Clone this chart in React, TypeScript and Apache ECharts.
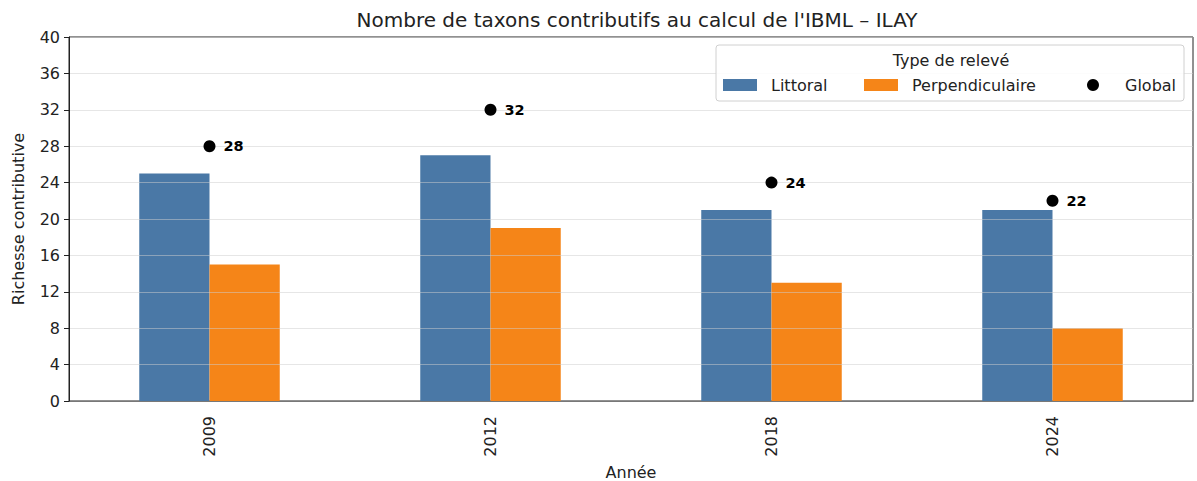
import React, { useEffect, useRef } from "react";
import * as echarts from "echarts";

const years = ["2009", "2012", "2018", "2024"];
const littoral = [25, 27, 21, 21];
const perpendiculaire = [15, 19, 13, 8];
const globalVals = [28, 32, 24, 22];
const yTicks = { min: 0, max: 40, interval: 4 };

const FONT = "DejaVu Sans";
const FS = 16;

export default function App() {
  const ref = useRef<HTMLDivElement>(null);
  useEffect(() => {
    if (!ref.current) return;
    const chart = echarts.init(ref.current, undefined, { renderer: "svg" });
    const legendText = {
      fontFamily: FONT,
      fontSize: FS,
      lineHeight: 16,
      color: "#222",
      padding: [0, 0, 0, 9],
    };
    const legendBase = {
      top: 77,
      padding: 0,
      itemWidth: 34,
      itemHeight: 12,
      z: 12,
    };
    chart.setOption({
      animation: false,
      backgroundColor: "#fff",
      textStyle: { fontFamily: FONT },
      title: {
        text: "Nombre de taxons contributifs au calcul de l'IBML – ILAY",
        left: 632,
        textAlign: "center",
        top: 5,
        textStyle: { fontFamily: FONT, fontSize: 20, fontWeight: "normal", color: "#222" },
      },
      graphic: [
        {
          type: "rect",
          shape: { x: 716, y: 45, width: 468, height: 56, r: 3 },
          style: { fill: "rgba(255,255,255,0.85)", stroke: "#d0d0d0", lineWidth: 1 },
          z: 10,
        },
        {
          type: "text",
          x: 951,
          y: 60,
          style: {
            text: "Type de relevé",
            fontFamily: FONT,
            fontSize: FS,
            fill: "#222",
            align: "center",
            verticalAlign: "middle",
          },
          z: 11,
        },
      ],
      legend: [
        {
          ...legendBase,
          data: [{ name: "Littoral", icon: "rect" }],
          left: 723,
          textStyle: legendText,
        },
        {
          ...legendBase,
          data: [{ name: "Perpendiculaire", icon: "rect" }],
          left: 864,
          textStyle: legendText,
        },
        {
          ...legendBase,
          data: [{ name: "Global", icon: "circle" }],
          left: 1087,
          textStyle: { ...legendText, padding: [0, 0, 0, 10] },
        },
      ],
      grid: {
        left: 69,
        right: 4,
        top: 37,
        bottom: 80,
        show: true,
        borderColor: "#222",
        borderWidth: 1,
        backgroundColor: "transparent",
        outerBoundsMode: "none",
        containLabel: false,
      },
      xAxis: {
        type: "category",
        data: years,
        name: "Année",
        nameLocation: "middle",
        nameGap: 60,
        nameTextStyle: { fontFamily: FONT, fontSize: FS, color: "#222" },
        axisLine: { lineStyle: { color: "#222" } },
        axisTick: { alignWithLabel: true, length: 5, lineStyle: { color: "#222" } },
        axisLabel: { rotate: 90, margin: 15, fontFamily: FONT, fontSize: FS, color: "#222" },
        splitLine: { show: false },
      },
      yAxis: {
        type: "value",
        min: yTicks.min,
        max: yTicks.max,
        interval: yTicks.interval,
        name: "Richesse contributive",
        nameLocation: "middle",
        nameGap: 43,
        nameTextStyle: { fontFamily: FONT, fontSize: FS, color: "#222" },
        z: 3,
        axisLine: { show: true, lineStyle: { color: "#222" } },
        axisTick: { show: true, length: 5, lineStyle: { color: "#222" } },
        axisLabel: { margin: 9, fontFamily: FONT, fontSize: FS, color: "#222" },
        splitLine: { show: true, lineStyle: { color: "rgba(205,205,205,0.5)", width: 1 } },
      },
      series: [
        {
          name: "Littoral",
          type: "bar",
          data: littoral,
          barWidth: "25%",
          barGap: "0%",
          itemStyle: { color: "#4a78a6" },
        },
        {
          name: "Perpendiculaire",
          type: "bar",
          data: perpendiculaire,
          barWidth: "25%",
          barGap: "0%",
          itemStyle: { color: "#f58518" },
        },
        {
          name: "Global",
          type: "scatter",
          data: globalVals,
          symbol: "circle",
          symbolSize: 12,
          z: 5,
          itemStyle: { color: "#000", opacity: 1 },
          label: {
            show: true,
            position: "right",
            distance: 8,
            fontFamily: FONT,
            fontSize: 14.5,
            fontWeight: "bold",
            color: "#000",
          },
        },
      ],
    });
    return () => chart.dispose();
  }, []);
  return (
    <div
      ref={ref}
      style={{ position: "fixed", left: 0, top: 0, width: 1197, height: 481 }}
    />
  );
}
